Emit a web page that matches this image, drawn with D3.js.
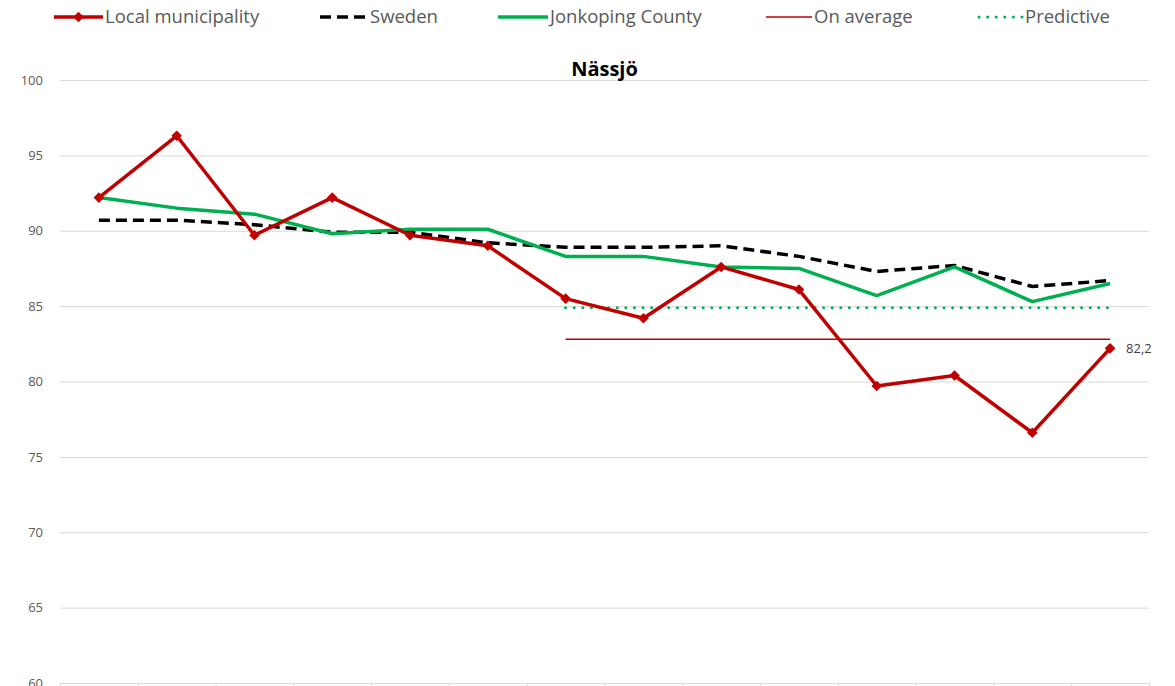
<!DOCTYPE html>
<html>
<head>
<meta charset="utf-8">
<script src="https://cdn.jsdelivr.net/npm/d3@7"></script>
<style>
  body { margin: 0; background: #fff; }
  text { font-family: "Open Sans", "Liberation Sans", sans-serif; }
</style>
</head>
<body>
<div id="chart"></div>
<script>
// Data
const periods = ['2007', '2008', '2009', '2010', '2011', '2012', '2013', '2014', '2015', '2016', '2017', '2018', '2019', '2020']
const localValues = [92.2, 96.3, 89.7, 92.2, 89.7, 89.0, 85.5, 84.2, 87.6, 86.1, 79.7, 80.4, 76.6, 82.2]
const swedenValues = [90.7, 90.7, 90.4, 89.9, 89.9, 89.2, 88.9, 88.9, 89.0, 88.3, 87.3, 87.7, 86.3, 86.7]
const countyValues = [92.2, 91.5, 91.1, 89.8, 90.1, 90.1, 88.3, 88.3, 87.6, 87.5, 85.7, 87.6, 85.3, 86.5]
const averageValue = 82.8
const predictiveValue = 84.9
const refStart = 6 // reference lines start at this period
const yTicks = [60, 65, 70, 75, 80, 85, 90, 95, 100]
const legendNames = ['Local municipality', 'Sweden', 'Jonkoping County', 'On average', 'Predictive']

// Dimensions
const dimensions = {
  width: 1175,
  height: 686,
  margins: { left: 60, right: 26, top: 80, bottom: 3 },
}
const ctrW = dimensions.width - dimensions.margins.left - dimensions.margins.right
const ctrH = dimensions.height - dimensions.margins.top - dimensions.margins.bottom

const red = '#c00000'
const green = '#00b050'

// Scales
const xScale = d3.scaleBand().domain(d3.range(periods.length)).range([0, ctrW])
const xMid = (i) => xScale(i) + xScale.bandwidth() / 2
const xEdge = d3.scaleLinear().domain([0, periods.length]).range([0, ctrW])
const yScale = d3.scaleLinear().domain([60, 100]).range([ctrH, 0])

const svg = d3
  .select('#chart')
  .append('svg')
  .attr('width', dimensions.width)
  .attr('height', dimensions.height)

const ctr = svg.append('g').attr('transform', `translate(${dimensions.margins.left}, ${dimensions.margins.top})`)

// y axis + gridlines
const yAxis = d3.axisLeft(yScale).tickValues(yTicks).tickSize(-ctrW).tickPadding(17)
const yAxisGroup = ctr.append('g').call(yAxis)
yAxisGroup.select('.domain').remove()
yAxisGroup.selectAll('line').attr('stroke', '#d9d9d9')
yAxisGroup.selectAll('text').style('font-size', '13px').attr('fill', '#595959')

// x axis (category boundaries)
const xAxis = d3.axisBottom(xEdge).tickValues(d3.range(periods.length + 1)).tickSize(5).tickFormat('')
const xAxisGroup = ctr.append('g').attr('transform', `translate(0, ${ctrH})`).call(xAxis)
xAxisGroup.selectAll('path, line').attr('stroke', '#d9d9d9')

// Title
ctr.append('text')
  .attr('x', ctrW / 2)
  .attr('y', -4)
  .attr('text-anchor', 'middle')
  .style('font-size', '20px')
  .style('font-weight', 'bold')
  .attr('fill', '#000')
  .text('Nässjö')

const line = d3.line().x((d, i) => xMid(i)).y((d) => yScale(d))

// reference lines
const refIdx = d3.range(refStart, periods.length)
ctr.append('path')
  .datum(refIdx)
  .attr('d', d3.line().x((i) => xMid(i)).y(() => yScale(averageValue)))
  .attr('fill', 'none')
  .attr('stroke', red)
  .attr('stroke-width', 1.5)

ctr.append('path')
  .datum(refIdx)
  .attr('d', d3.line().x((i) => xMid(i)).y(() => yScale(predictiveValue)))
  .attr('fill', 'none')
  .attr('stroke', green)
  .attr('stroke-width', 3)
  .attr('stroke-linecap', 'round')
  .attr('stroke-dasharray', '0,8.6')

// Sweden
ctr.append('path')
  .datum(swedenValues)
  .attr('d', line)
  .attr('fill', 'none')
  .attr('stroke', '#000')
  .attr('stroke-width', 3.5)
  .attr('stroke-dasharray', '11,6')

// County
ctr.append('path')
  .datum(countyValues)
  .attr('d', line)
  .attr('fill', 'none')
  .attr('stroke', green)
  .attr('stroke-width', 3.5)
  .attr('stroke-linejoin', 'round')

// Local municipality
ctr.append('path')
  .datum(localValues)
  .attr('d', line)
  .attr('fill', 'none')
  .attr('stroke', red)
  .attr('stroke-width', 3.5)
  .attr('stroke-linejoin', 'round')

const diamond = d3.symbol(d3.symbolSquare).size(56)
ctr.selectAll('.marker')
  .data(localValues)
  .join('path')
  .attr('class', 'marker')
  .attr('d', diamond)
  .attr('transform', (d, i) => `translate(${xMid(i)}, ${yScale(d)}) rotate(45)`)
  .attr('fill', red)

// last value label
const last = localValues.length - 1
ctr.append('text')
  .attr('x', xMid(last) + 16)
  .attr('y', yScale(localValues[last]) + 5)
  .style('font-size', '13px')
  .attr('fill', '#404040')
  .text(String(localValues[last]).replace('.', ','))

// Legend
const legendItems = [
  { x: 54, w: 49, type: 'local' },
  { x: 320, w: 48, type: 'sweden' },
  { x: 498, w: 50, type: 'county' },
  { x: 766, w: 46, type: 'average' },
  { x: 977, w: 46, type: 'predictive' },
]
const legend = svg.append('g').attr('transform', 'translate(0, 17)')
legendItems.forEach((item, k) => {
  const g = legend.append('g').attr('transform', `translate(${item.x}, 0)`)
  const l = g.append('line').attr('x1', 0).attr('x2', item.w).attr('y1', 0).attr('y2', 0).attr('fill', 'none')
  if (item.type === 'local') {
    l.attr('stroke', red).attr('stroke-width', 3.5)
    g.append('path').attr('d', diamond).attr('transform', `translate(${item.w / 2}, 0) rotate(45)`).attr('fill', red)
  } else if (item.type === 'sweden') {
    l.attr('stroke', '#000').attr('stroke-width', 3.5).attr('stroke-dasharray', '11,6')
  } else if (item.type === 'county') {
    l.attr('stroke', green).attr('stroke-width', 3.5)
  } else if (item.type === 'average') {
    l.attr('stroke', red).attr('stroke-width', 1.5)
  } else {
    l.attr('x1', 2).attr('stroke', green).attr('stroke-width', 3).attr('stroke-linecap', 'round').attr('stroke-dasharray', '0,8.6')
  }
  g.append('text')
    .attr('x', item.w + 2)
    .attr('y', 6)
    .style('font-size', '18.5px')
    .attr('fill', '#595959')
    .text(legendNames[k])
})
</script>
</body>
</html>
